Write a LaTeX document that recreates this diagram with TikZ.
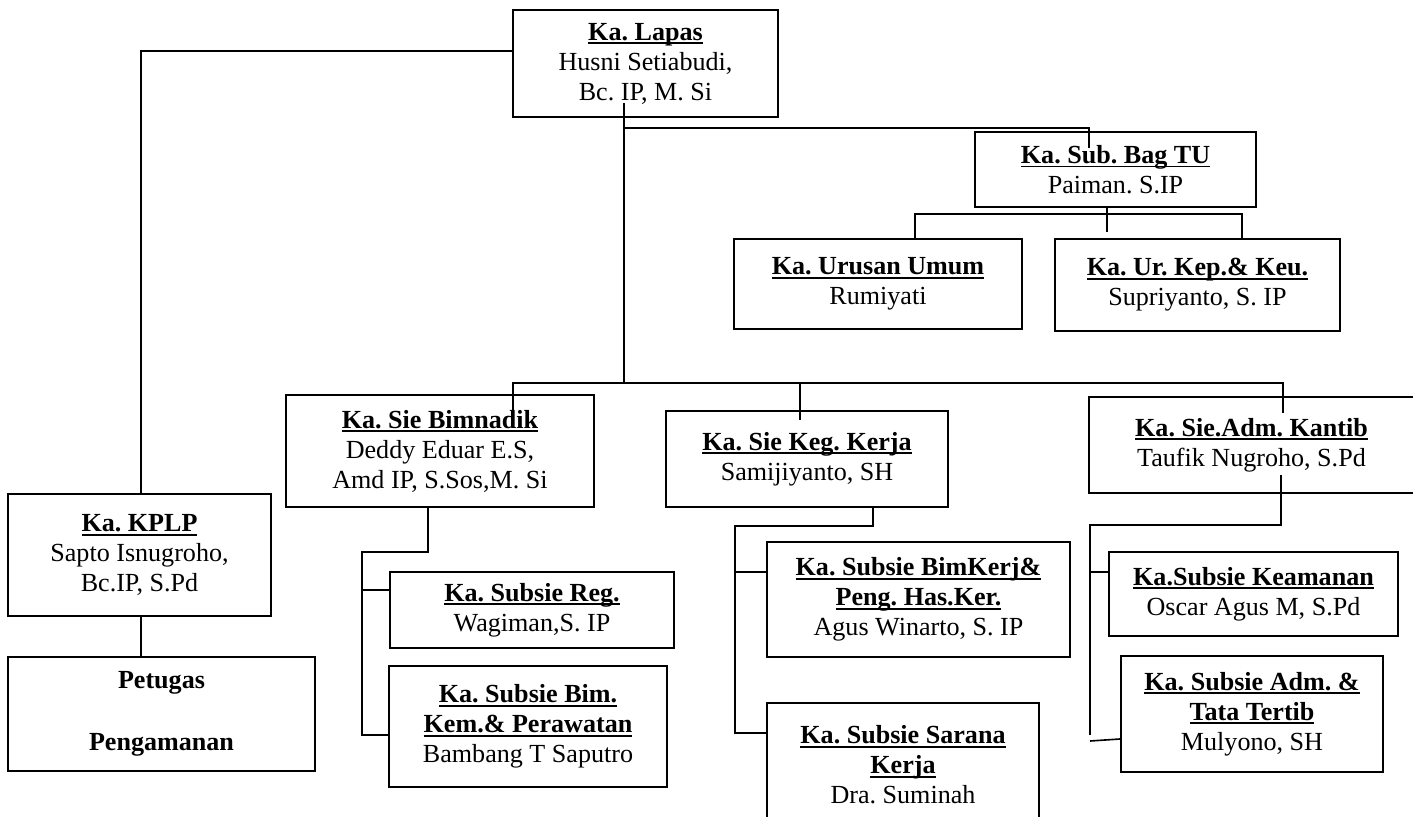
\documentclass[tikz,border=0pt]{standalone}
\usepackage{fontspec}
\setmainfont{Liberation Serif}
\usetikzlibrary{positioning}
\frenchspacing

\tikzset{
  box/.style={draw, line width=0.9pt, align=center, inner sep=2pt,
    font=\fontsize{12}{13.8}\selectfont},
  sz/.style 2 args={minimum width=#1*0.46pt, minimum height=#2*0.46pt},
  conn/.style={line width=0.75pt},
}
\newsavebox{\hdbox}
\newcommand{\hd}[1]{\sbox{\hdbox}{\textbf{#1}}\rlap{\usebox{\hdbox}}\rule[-1.9pt]{\wd\hdbox}{0.9pt}}

\begin{document}
\begin{tikzpicture}[x=0.46pt, y=-0.46pt]
    \useasboundingbox (0,0) rectangle (1413,817);

    % Pimpinan
    \node[box, sz={265}{107}] (lapas) at (645.5,63.5) {\hd{Ka. Lapas}\\Husni Setiabudi,\\Bc. IP, M. Si};

    % KPLP
    \node[box, sz={263}{122}] (kplp) at (139.5,555) {\hd{Ka. KPLP}\\Sapto Isnugroho,\\Bc.IP, S.Pd};
    \node[box, sz={307}{114}] (petugas) at (161.5,714) {\textbf{Petugas}\\[14.8pt]\textbf{Pengamanan}};

    % Tata usaha
    \node[box, sz={281}{75}] (subbag) at (1115.5,169.5) {\hd{Ka. Sub. Bag TU}\\Paiman. S.IP};
    \node[box, sz={288}{90}] (urusan) at (878,284) {\hd{Ka. Urusan Umum}\\Rumiyati};
    \node[box, sz={285}{92}] (kepkeu) at (1197.5,285) {\hd{Ka. Ur. Kep.\& Keu.}\\Supriyanto, S. IP};

    % Seksi
    \node[box, sz={308}{112}] (bimnadik) at (440,451) {\hd{Ka. Sie Bimnadik}\\Deddy Eduar E.S,\\Amd IP, S.Sos,M. Si};
    \node[box, sz={282}{96}] (kegkerja) at (807,459) {\hd{Ka. Sie Keg. Kerja}\\Samijiyanto, SH};
    \node[box, sz={325}{96}] (kantib) at (1251.5,445) {\hd{Ka. Sie.Adm. Kantib}\\Taufik Nugroho, S.Pd};

    % Subseksi
    \node[box, sz={284}{76}] (reg) at (532,610) {\hd{Ka. Subsie Reg.}\\Wagiman,S. IP};
    \node[box, sz={278}{121}] (bimkem) at (528,726.5) {\hd{Ka. Subsie Bim.}\\\hd{Kem.\& Perawatan}\\Bambang T Saputro};
    \node[box, sz={303}{115}] (bimkerj) at (918.5,599.5) {\hd{Ka. Subsie BimKerj\&}\\\hd{Peng. Has.Ker.}\\Agus Winarto, S. IP};
    \node[box, sz={272}{124}] (sarana) at (903,765) {\hd{Ka. Subsie Sarana}\\\hd{Kerja}\\Dra. Suminah};
    \node[box, sz={289}{84}] (keamanan) at (1253.5,594) {\hd{Ka.Subsie Keamanan}\\Oscar Agus M, S.Pd};
    \node[box, sz={262}{116}] (tertib) at (1252,714) {\hd{Ka. Subsie Adm. \&}\\\hd{Tata Tertib}\\Mulyono, SH};

    % Garis komando
    \draw[conn] (lapas.west |- 0,51) -| (kplp.north -| 141,0);
    \draw[conn] (kplp.south -| 141,0) -- (petugas.north -| 141,0);
    \coordinate (trunk) at (624,103);
    \draw[conn] (trunk) -- (624,383);
    \draw[conn] (624,128) -| (1089,148);
    \draw[conn] (subbag.south -| 1107,0) -- (1107,232);
    \draw[conn] (urusan.north -| 915,0) |- (1242,214) -- (kepkeu.north -| 1242,0);
    \draw[conn] (513,412) |- (1283,383) -- (1283,413);
    \draw[conn] (800,383) -- (800,420);

    % Bimnadik
    \draw[conn] (bimnadik.south -| 428,0) |- (362,552) -- (362,735) -- (bimkem.west |- 0,735);
    \draw[conn] (362,590) -- (reg.west |- 0,590);
    % Keg. Kerja
    \draw[conn] (kegkerja.south -| 873,0) |- (735,526) -- (735,733) -- (sarana.west |- 0,733);
    \draw[conn] (735,572) -- (bimkerj.west |- 0,572);
    % Kantib
    \draw[conn] (1281,475) |- (1090,525) -- (1090,735);
    \draw[conn] (1090,572) -- (keamanan.west |- 0,572);
    \draw[conn] (1090,741) -- (tertib.west |- 0,739);
\end{tikzpicture}
\end{document}
